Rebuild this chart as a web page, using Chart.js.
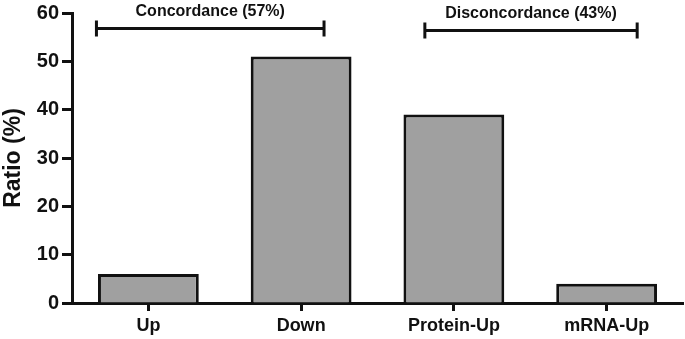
<!DOCTYPE html>
<html>
<head>
<meta charset="utf-8">
<script src="https://cdn.jsdelivr.net/npm/chart.js@4"></script>
<style>
html,body{margin:0;padding:0;background:#fff;}
#wrap{width:685px;height:339px;position:relative;}
</style>
</head>
<body>
<div id="wrap"><canvas id="c"></canvas></div>
<script>
const categories = ["Up", "Down", "Protein-Up", "mRNA-Up"];
const ratioValues = [6, 51, 39, 4];
const yTicks = [0, 10, 20, 30, 40, 50, 60];
const bracketLabels = ["Concordance (57%)", "Disconcordance (43%)"];
const bracketStart = [-0.34, 1.81];
const bracketEnd = [1.15, 3.2];
const bracketLevel = [56.8, 56.4];

const FONT = "'Liberation Sans', Arial, sans-serif";

const bracketPlugin = {
  id: 'brackets',
  afterDraw(chart) {
    const ctx = chart.ctx;
    const xs = chart.scales.x, ys = chart.scales.y;
    ctx.save();
    ctx.strokeStyle = '#111';
    ctx.fillStyle = '#111';
    ctx.lineWidth = 3;
    ctx.lineCap = 'butt';
    for (let i = 0; i < bracketLabels.length; i++) {
      const x1 = xs.getPixelForValue(bracketStart[i]);
      const x2 = xs.getPixelForValue(bracketEnd[i]);
      const y = ys.getPixelForValue(bracketLevel[i]);
      ctx.beginPath();
      ctx.moveTo(x1, y); ctx.lineTo(x2, y);
      ctx.moveTo(x1, y - 8); ctx.lineTo(x1, y + 8);
      ctx.moveTo(x2, y - 8); ctx.lineTo(x2, y + 8);
      ctx.stroke();
      ctx.font = "bold 16px " + FONT;
      ctx.textAlign = 'center';
      ctx.textBaseline = 'middle';
      ctx.fillText(bracketLabels[i], (x1 + x2) / 2, y - 17);
    }
    ctx.restore();
  }
};

new Chart(document.getElementById('c'), {
  type: 'bar',
  data: {
    labels: categories,
    datasets: [{
      data: ratioValues,
      backgroundColor: '#a0a0a0',
      borderColor: '#111',
      borderWidth: 3,
      borderSkipped: 'start',
      categoryPercentage: 1,
      barPercentage: 0.66
    }]
  },
  options: {
    responsive: true,
    maintainAspectRatio: false,
    animation: false,
    layout: { padding: { top: 9, right: 2, left: 0, bottom: 0 } },
    plugins: { legend: { display: false }, tooltip: { enabled: false } },
    scales: {
      x: {
        offset: true,
        grid: { offset: false, drawOnChartArea: false, drawTicks: true, tickLength: 8, tickWidth: 3, tickColor: '#111' },
        border: { display: true, color: '#111', width: 3 },
        ticks: { color: '#111', padding: 4, font: { family: FONT, weight: 'bold', size: 18 } },
        afterFit(s) { s.height = 36; }
      },
      y: {
        min: 0, max: 60,
        afterBuildTicks(s) { s.ticks = yTicks.map(v => ({ value: v })); },
        grid: { drawOnChartArea: false, drawTicks: true, tickLength: 10, tickWidth: 3, tickColor: '#111' },
        border: { display: true, color: '#111', width: 3 },
        ticks: { color: '#111', padding: 3, font: { family: FONT, weight: 'bold', size: 20, lineHeight: 1 } },
        title: { display: true, text: 'Ratio (%)', color: '#111', padding: { top: 0, bottom: 0 }, font: { family: FONT, weight: 'bold', size: 23 } },
        afterFit(s) { s.width = 72; }
      }
    }
  },
  plugins: [bracketPlugin]
});
</script>
</body>
</html>
